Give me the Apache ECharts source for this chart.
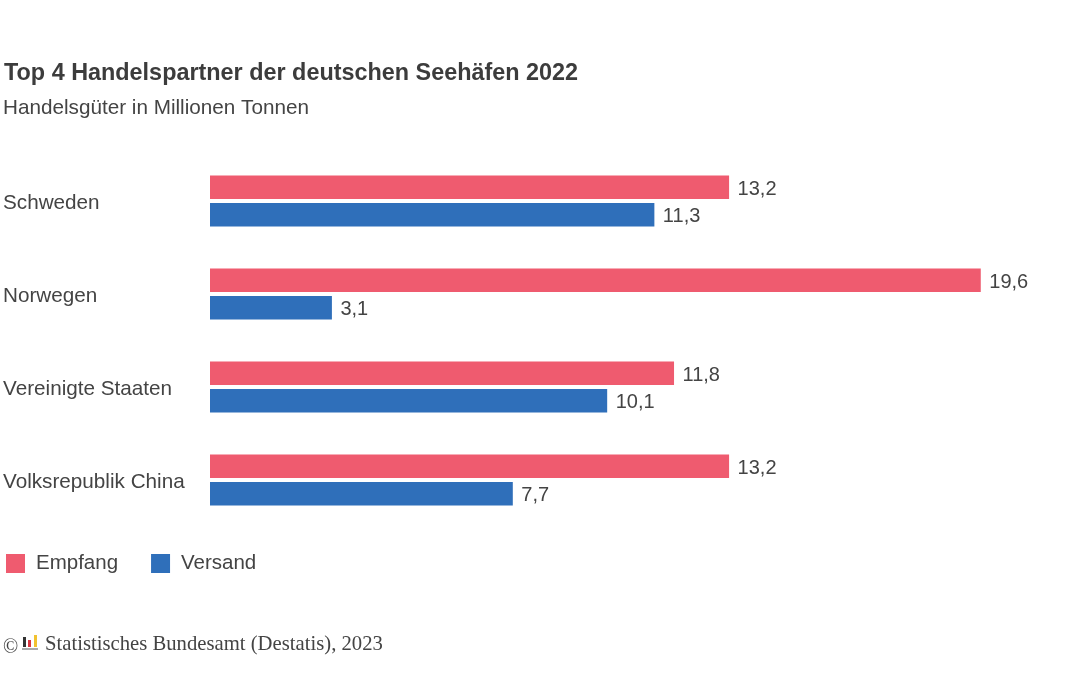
<!DOCTYPE html>
<html>
<head>
<meta charset="utf-8">
<style>
  html, body { margin: 0; padding: 0; background: #fff; }
  #chart { width: 1080px; height: 675px; }
</style>
<script src="https://cdn.jsdelivr.net/npm/echarts@6/dist/echarts.min.js"></script>
</head>
<body>
<div id="chart"></div>
<script>
var categories = ['Schweden', 'Norwegen', 'Vereinigte Staaten', 'Volksrepublik China'];
var empfang = [13.2, 19.6, 11.8, 13.2];
var versand = [11.3, 3.1, 10.1, 7.7];

var textColor = '#444444';
var sans = '"Liberation Sans", Arial, sans-serif';

function commaLabel(p) {
  return String(p.value).replace('.', ',');
}

function barSeries(name, values, color) {
  return {
    name: name,
    type: 'bar',
    data: values,
    barWidth: 23.5,
    barGap: '17%',
    itemStyle: { color: color },
    label: {
      show: true,
      position: 'right',
      distance: 8.5,
      offset: [0, 2],
      formatter: commaLabel,
      color: textColor,
      fontFamily: sans,
      fontSize: 20
    }
  };
}

var chart = echarts.init(document.getElementById('chart'));
chart.setOption({
  animation: false,
  backgroundColor: '#ffffff',
  title: [
    {
      text: 'Top 4 Handelspartner der deutschen Seehäfen 2022',
      left: -1, top: 57,
      textStyle: { color: '#3c3c3c', fontFamily: sans, fontSize: 23.4, fontWeight: 'bold' }
    },
    {
      text: 'Handelsgüter in Millionen Tonnen',
      left: -2, top: 93,
      textStyle: { color: textColor, fontFamily: sans, fontSize: 20.7, fontWeight: 'normal' }
    },
    {
      text: 'Statistisches Bundesamt (Destatis), 2023',
      left: 40, top: 629,
      textStyle: { color: textColor, fontFamily: '"Liberation Serif", serif', fontSize: 20.7, fontWeight: 'normal' }
    },
    {
      text: '©',
      left: -2, top: 633,
      textStyle: { color: textColor, fontFamily: '"Liberation Serif", serif', fontSize: 20, fontWeight: 'normal' }
    }
  ],
  legend: {
    left: 1, top: 548,
    icon: 'rect',
    itemWidth: 19, itemHeight: 19,
    itemGap: 33,
    selectedMode: false,
    textStyle: { color: textColor, fontFamily: sans, fontSize: 20.5, padding: [2, 0, 0, 6] }
  },
  grid: { left: 209, top: 154.5, width: 787.5, height: 372 },
  xAxis: { type: 'value', min: 0, max: 20, show: false },
  yAxis: {
    type: 'category',
    data: categories,
    inverse: true,
    axisLine: { show: false },
    axisTick: { show: false },
    axisLabel: {
      align: 'left',
      margin: 207,
      formatter: '{name|{value}}',
      rich: {
        name: {
          padding: [4, 0, 0, 0],
          color: textColor,
          fontFamily: sans,
          fontSize: 20.7
        }
      }
    }
  },
  series: [
    barSeries('Empfang', empfang, '#ef5b6f'),
    barSeries('Versand', versand, '#2f6fba')
  ],
  graphic: [
    { type: 'rect', shape: { x: 23, y: 637, width: 3, height: 10 }, style: { fill: '#333333' } },
    { type: 'rect', shape: { x: 28, y: 640, width: 3, height: 7 }, style: { fill: '#d8343f' } },
    { type: 'rect', shape: { x: 34, y: 635, width: 3, height: 12 }, style: { fill: '#f2c230' } },
    { type: 'rect', shape: { x: 22, y: 648, width: 16, height: 2 }, style: { fill: '#aaaaaa' } }
  ]
});
</script>
</body>
</html>
